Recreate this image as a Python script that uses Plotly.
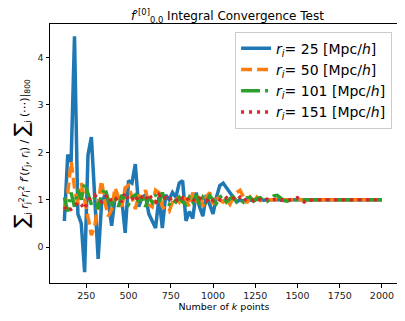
import plotly.graph_objects as go

# number of k points
k_points = list(range(120, 2001, 20))

# r_i = 25
ratio_25 = [0.55, 1.95, 1.80, 4.45, 0.70, 0.50, -0.53, 1.95, 2.32, 1.10,
            -0.25, 0.90, 1.10, 0.95, 0.45, 1.05, 1.05, 1.00, 0.30, 1.40,
            1.35, 1.75, 0.85, 1.05, 1.10, 0.70, 0.55, 0.40, 1.05, 0.40,
            1.10, 1.00, 1.15, 1.05, 1.35, 1.40, 0.55, 0.75, 0.60, 1.15,
            0.85, 0.65, 1.10, 0.90, 0.70, 1.05, 1.30, 1.35, 1.25, 1.15,
            1.05, 0.95, 1.00, 0.97, 1.01, 0.99, 1.00, 1.01, 1.00, 0.99,
            1.00, 1.00, 1.01, 1.00, 1.00, 0.99, 1.00, 1.00, 1.00, 1.00,
            1.00, 1.00, 1.00, 1.00, 1.00, 1.00, 1.00, 1.00, 1.00, 1.00,
            1.00, 1.00, 1.00, 1.00, 1.00, 1.00, 1.00, 1.00, 1.00, 1.00,
            1.00, 1.00, 1.00, 1.00, 1.00]

# r_i = 50
ratio_50 = [0.80, 1.15, 1.80, 1.25, 0.90, 1.35, 1.00, 0.65, 0.25, 0.45,
            0.95, 1.40, 0.95, 0.65, 0.80, 1.25, 1.05, 0.85, 1.25, 1.30,
            1.05, 0.80, 1.10, 1.00, 1.20, 0.90, 0.85, 1.20, 1.15, 0.85,
            0.80, 0.75, 0.95, 1.05, 0.95, 1.10, 1.00, 0.85, 1.15, 0.95,
            1.10, 0.85, 1.05, 1.15, 0.90, 1.10, 1.00, 0.95, 1.00, 0.90,
            1.05, 1.15, 1.20, 1.05, 0.93, 1.05, 0.95, 1.05, 0.98, 1.02,
            1.00, 1.00, 1.00, 1.00, 1.00, 1.00, 1.00, 1.00, 1.00, 1.00,
            1.00, 1.00, 1.00, 1.00, 1.00, 1.00, 1.00, 1.00, 1.00, 1.00,
            1.00, 1.00, 1.00, 1.00, 1.00, 1.00, 1.00, 1.00, 1.00, 1.00,
            1.00, 1.00, 1.00, 1.00, 1.00]

# r_i = 101
ratio_101 = [1.05, 0.75, 1.15, 0.85, 1.20, 1.00, 1.35, 1.15, 0.90, 1.05,
             0.80, 1.10, 1.25, 1.00, 0.90, 1.05, 0.85, 1.10, 1.00, 0.90,
             1.05, 1.10, 0.95, 1.10, 0.85, 1.05, 0.95, 1.10, 0.95, 1.15,
             0.95, 0.90, 1.00, 0.95, 1.05, 0.95, 0.90, 1.05, 0.95, 1.10,
             0.90, 1.05, 0.95, 1.08, 1.00, 0.92, 1.05, 1.10, 0.95, 1.02,
             1.06, 0.96, 1.00, 0.95, 1.04, 1.05, 0.97, 1.02, 1.04, 0.98,
             0.96, 1.02, 1.08, 1.09, 1.03, 0.98, 0.97, 1.00, 1.00, 1.00,
             1.00, 1.00, 1.00, 1.00, 1.00, 1.00, 1.00, 1.00, 1.00, 1.00,
             1.00, 1.00, 1.00, 1.00, 1.00, 1.00, 1.00, 1.00, 1.00, 1.00,
             1.00, 1.00, 1.00, 1.00, 1.00]

# r_i = 151
ratio_151 = [0.85, 0.75, 0.80, 0.85, 0.95, 0.90, 0.80, 1.00, 1.05, 1.10,
             1.00, 0.95, 1.05, 1.10, 0.95, 1.00, 1.05, 0.95, 1.15, 1.00,
             1.05, 0.95, 1.10, 1.05, 0.98, 1.12, 1.00, 0.95, 1.10, 1.00,
             1.05, 0.98, 1.06, 1.00, 0.95, 1.04, 0.97, 1.05, 1.00, 0.96,
             1.03, 1.00, 0.97, 1.05, 0.98, 1.02, 1.00, 0.97, 1.04, 1.00,
             1.03, 0.98, 1.05, 0.97, 1.02, 1.00, 0.98, 1.03, 1.00, 0.97,
             1.01, 0.98, 1.00, 1.02, 0.99, 1.00, 0.98, 1.00, 1.01, 1.04,
             0.99, 0.95, 1.00, 0.99, 1.00, 1.00, 1.00, 1.00, 1.00, 1.00,
             1.00, 1.00, 1.00, 1.00, 1.00, 1.00, 1.00, 1.00, 1.00, 1.00,
             1.00, 1.00, 1.00, 1.00, 1.00]

r_labels = ['25', '50', '101', '151']
x_ticks = [250, 500, 750, 1000, 1250, 1500, 1750, 2000]
y_ticks = [0, 1, 2, 3, 4]

series = [ratio_25, ratio_50, ratio_101, ratio_151]
colors = ['#1f77b4', '#ff7f0e', '#2ca02c', '#d62728']
dashes = ['solid', '11px,5px', '19px,5px,3px,5px', '3px,5px']

fig = go.Figure()

for r, vals, c, d in zip(r_labels, series, colors, dashes):
    fig.add_trace(
        go.Scatter(x=k_points,
                   y=vals,
                   mode='lines',
                   line=dict(color=c, width=3.5, dash=d),
                   name='<i>r<sub>i</sub></i>= %s [Mpc/<i>h</i>]' % r))

axis_style = dict(showline=True, linecolor='black', linewidth=1, mirror=True,
                  ticks='outside', ticklen=3.5, tickcolor='black',
                  showgrid=False, zeroline=False, automargin=False,
                  tickfont=dict(size=9.5, color='#222222'))

# the page body keeps its default 8px margin, so the figure is 8px smaller
fig.update_layout(
    width=397, height=313,
    margin=dict(l=42, r=7, t=16, b=38),
    paper_bgcolor='white', plot_bgcolor='white',
    font=dict(family='DejaVu Sans', color='black'),
    title=dict(text='<i>f</i>′<sup>[0]</sup><sub>0,0</sub> Integral Convergence Test',
               x=0.553, xanchor='center', y=0.975, yanchor='middle',
               font=dict(size=12), automargin=False),
    legend=dict(x=0.983, y=0.97, xanchor='right', yanchor='top',
                bordercolor='#cccccc', borderwidth=1, bgcolor='rgba(255,255,255,0.8)',
                font=dict(size=14), tracegroupgap=0),
    xaxis=dict(range=[35, 2095], tickvals=x_ticks,
               title=dict(text='Number of <i>k</i> points', font=dict(size=9.5), standoff=2),
               **axis_style),
    yaxis=dict(range=[-0.76, 4.71], tickvals=y_ticks,
               title=dict(text='<span style="font-size:20px">∑</span><sub>j</sub> '
                               '<i>r</i><sub>j</sub><sup>2</sup><i>r</i><sub>i</sub><sup>2</sup> '
                               '<i>f</i>′(<i>r</i><sub>j</sub>, <i>r</i><sub>i</sub>) / '
                               '<span style="font-size:20px">∑</span><sub>j</sub> (⋯)|<sub>800</sub>',
                          font=dict(size=11), standoff=6),
               **axis_style),
)

fig.write_html("out.html")
